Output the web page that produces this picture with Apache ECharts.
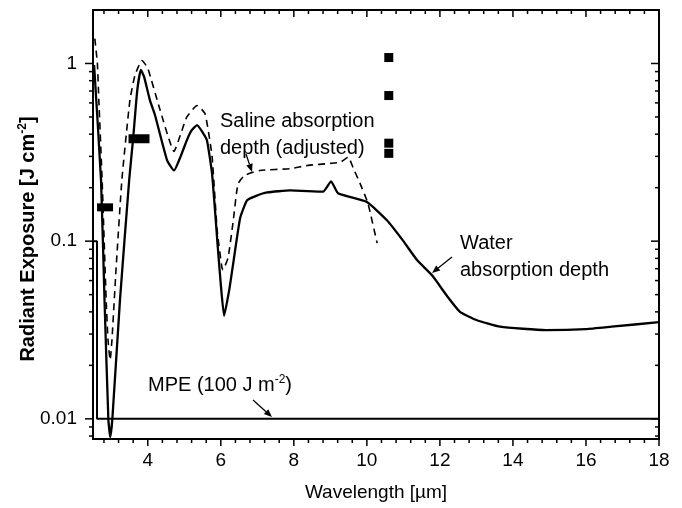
<!DOCTYPE html>
<html><head><meta charset="utf-8">
<script src="https://cdn.jsdelivr.net/npm/echarts@6/dist/echarts.min.js"></script>
<style>html,body{margin:0;padding:0;background:#fff}#c{width:682px;height:508px}</style>
</head><body><div id="c"></div>
<script>
// ---- data ----
const waterWavelength = [2.53, 2.72, 2.815, 2.92, 2.97, 3.03, 3.24, 3.49, 3.6, 3.71, 3.81, 3.9, 4.06, 4.2, 4.53, 4.72, 4.9, 5.07, 5.2, 5.35, 5.5, 5.62, 5.76, 5.92, 6.0, 6.09, 6.23, 6.34, 6.53, 6.72, 6.97, 7.27, 7.9, 8.8, 9.02, 9.21, 10.0, 10.55, 11.0, 11.38, 11.79, 12.2, 12.55, 13.0, 13.65, 14.9, 16.0, 16.7, 18];
const waterExposure = [0.98, 0.22, 0.047, 0.01, 0.0079, 0.01, 0.047, 0.22, 0.38, 0.70, 0.92, 0.84, 0.62, 0.51, 0.285, 0.25, 0.30, 0.37, 0.42, 0.45, 0.41, 0.37, 0.24, 0.091, 0.057, 0.038, 0.053, 0.075, 0.135, 0.17, 0.18, 0.188, 0.193, 0.19, 0.217, 0.186, 0.166, 0.131, 0.10, 0.078, 0.064, 0.049, 0.040, 0.036, 0.033, 0.0316, 0.032, 0.033, 0.035];
const salineWavelength = [2.55, 2.62, 2.66, 2.75, 2.86, 2.91, 2.97, 3.02, 3.13, 3.29, 3.51, 3.65, 3.84, 4.0, 4.34, 4.72, 4.9, 5.07, 5.35, 5.57, 5.76, 5.9, 6.03, 6.06, 6.2, 6.34, 6.47, 6.66, 7.07, 7.9, 8.39, 9.0, 9.27, 9.49, 9.62, 9.81, 10.03, 10.28];
const salineExposure = [1.38, 1.0, 0.62, 0.22, 0.047, 0.028, 0.0214, 0.028, 0.069, 0.22, 0.62, 0.86, 1.04, 0.94, 0.545, 0.32, 0.40, 0.50, 0.58, 0.52, 0.30, 0.115, 0.071, 0.069, 0.081, 0.13, 0.21, 0.235, 0.25, 0.256, 0.267, 0.274, 0.278, 0.297, 0.26, 0.212, 0.163, 0.0975];
const mpeWavelength = [2.5, 2.61, 2.61, 18];
const mpeExposure = [0.1, 0.1, 0.01, 0.01];
const laserWavelength = [10.6, 10.6, 10.6, 10.6];
const laserExposure = [1.08, 0.66, 0.356, 0.312];
const bandWavelength = [2.83, 3.76];
const bandExposure = [0.155, 0.377];
const xTickValues = [4, 6, 8, 10, 12, 14, 16, 18];
const xMinorTicks = [2.8, 3.2, 3.6, 4.4, 4.8, 5.2, 5.6, 6.4, 6.8, 7.2, 7.6, 8.4, 8.8, 9.2, 9.6, 10.4, 10.8, 11.2, 11.6, 12.4, 12.8, 13.2, 13.6, 14.4, 14.8, 15.2, 15.6, 16.4, 16.8, 17.2, 17.6];
const yTickValues = [0.01, 0.1, 1];
const yMinorTicks = [0.008, 0.009, 0.02, 0.03, 0.04, 0.05, 0.06, 0.07, 0.08, 0.09, 0.2, 0.3, 0.4, 0.5, 0.6, 0.7, 0.8, 0.9];
const X_MIN = 2.5, X_MAX = 18, Y_MIN = 0.0077, Y_MAX = 2;

// ---- helpers ----
const FONT = '"Liberation Sans", Arial, Helvetica, sans-serif';
const zip = (a, b) => a.map((v, i) => [v, b[i]]);

function tickSeries(values, axis, len) {
  return {
    type: 'custom', coordinateSystem: 'cartesian2d', clip: false, silent: true, z: 5,
    data: values.map(v => axis === 'x' ? [v, Y_MIN] : [X_MIN, v]),
    encode: { x: 0, y: 1 },
    renderItem: (params, api) => {
      const style = { stroke: '#000', lineWidth: 1.5 };
      if (axis === 'x') {
        const v = api.value(0);
        const b = api.coord([v, Y_MIN]), t = api.coord([v, Y_MAX]);
        return { type: 'group', children: [
          { type: 'line', shape: { x1: b[0], y1: b[1], x2: b[0], y2: b[1] + len }, style },
          { type: 'line', shape: { x1: t[0], y1: t[1], x2: t[0], y2: t[1] + len }, style }
        ] };
      }
      const v = api.value(1);
      const l = api.coord([X_MIN, v]), r = api.coord([X_MAX, v]);
      return { type: 'group', children: [
        { type: 'line', shape: { x1: l[0], y1: l[1], x2: l[0] - len, y2: l[1] }, style },
        { type: 'line', shape: { x1: r[0], y1: r[1], x2: r[0] - len, y2: r[1] }, style }
      ] };
    }
  };
}

function arrow(x1, y1, x2, y2) {
  const a = Math.atan2(y2 - y1, x2 - x1), L = 8, W = 3.3;
  const bx = x2 - L * Math.cos(a), by = y2 - L * Math.sin(a);
  const px = -Math.sin(a) * W, py = Math.cos(a) * W;
  return [
    { type: 'line', shape: { x1, y1, x2: bx, y2: by }, style: { stroke: '#000', lineWidth: 1.3 } },
    { type: 'polygon', shape: { points: [[x2, y2], [bx + px, by + py], [bx - px, by - py]] }, style: { fill: '#000' } }
  ];
}

function txt(x, y, text, extra) {
  return Object.assign({ type: 'text', x, y, style: Object.assign({
    text, fill: '#000', font: '20px ' + FONT, align: 'left', verticalAlign: 'middle'
  }, extra || {}) });
}

const supRich = {
  a: { fontSize: 20, fontFamily: FONT, color: '#000' },
  s: { fontSize: 12, fontFamily: FONT, color: '#000', verticalAlign: 'top', padding: [0, 0, 10, 0] }
};
const supRichBold = {
  a: { fontSize: 20, fontFamily: FONT, fontWeight: 'bold', color: '#000' },
  s: { fontSize: 12, fontFamily: FONT, fontWeight: 'bold', color: '#000', verticalAlign: 'top', padding: [0, 0, 10, 0] }
};

const chart = echarts.init(document.getElementById('c'), null, { renderer: 'canvas' });
chart.setOption({
  animation: false,
  backgroundColor: '#fff',
  grid: { left: 93, right: 23, top: 10, bottom: 69, show: true, borderColor: '#000', borderWidth: 2, backgroundColor: 'transparent' },
  xAxis: {
    type: 'value', min: X_MIN, max: X_MAX,
    axisLine: { show: false }, axisTick: { show: false }, splitLine: { show: false },
    axisLabel: {
      customValues: xTickValues, margin: 12, color: '#000', fontSize: 19, fontFamily: FONT,
      formatter: v => (xTickValues.indexOf(Math.round(v * 1000) / 1000) >= 0 ? String(Math.round(v)) : '')
    }
  },
  yAxis: {
    type: 'log', min: Y_MIN, max: Y_MAX,
    axisLine: { show: false }, axisTick: { show: false }, splitLine: { show: false },
    axisLabel: {
      customValues: yTickValues, margin: 16, color: '#000', fontSize: 19, fontFamily: FONT,
      formatter: v => {
        const l = Math.log10(v);
        return Math.abs(l - Math.round(l)) < 1e-6 ? String(Math.pow(10, Math.round(l))) : '';
      }
    }
  },
  series: [
    { name: 'MPE', type: 'line', data: zip(mpeWavelength, mpeExposure), showSymbol: false, symbol: 'none',
      lineStyle: { color: '#000', width: 2 }, z: 3 },
    { name: 'Water absorption depth', type: 'line', data: zip(waterWavelength, waterExposure), symbol: 'none',
      smooth: 0.15, lineStyle: { color: '#000', width: 2.3 }, z: 3 },
    { name: 'Saline absorption depth (adjusted)', type: 'line', data: zip(salineWavelength, salineExposure), symbol: 'none',
      smooth: 0.15, lineStyle: { color: '#000', width: 1.6, type: [7, 5] }, z: 3 },
    { name: 'Laser 10.6', type: 'scatter', data: zip(laserWavelength, laserExposure), symbol: 'rect', symbolSize: 9,
      itemStyle: { color: '#000', opacity: 1 }, z: 4 },
    { name: 'Bands', type: 'scatter', data: zip(bandWavelength, bandExposure), symbol: 'rect',
      symbolSize: (val, p) => (p.dataIndex === 0 ? [16, 8] : [21, 9]), itemStyle: { color: '#000', opacity: 1 }, z: 4 },
    tickSeries(xTickValues, 'x', 7),
    tickSeries(xMinorTicks, 'x', 4),
    tickSeries(yTickValues, 'y', 8),
    tickSeries(yMinorTicks, 'y', 4)
  ],
  graphic: [
    txt(220, 121, 'Saline absorption'),
    txt(220, 148, 'depth (adjusted)'),
    ...arrow(246, 154, 252, 172),
    txt(460, 243, 'Water'),
    txt(460, 270, 'absorption depth'),
    ...arrow(452, 257, 432, 273),
    { type: 'text', x: 148, y: 385, style: { text: '{a|MPE (100 J m}{s|-2}{a|)}', rich: supRich, align: 'left', verticalAlign: 'middle' } },
    ...arrow(253, 400, 272, 417),
    { type: 'text', x: 28, y: 239, rotation: Math.PI / 2,
      style: { text: '{a|Radiant Exposure [J cm}{s|-2}{a|]}', rich: supRichBold, align: 'center', verticalAlign: 'middle' } },
    { type: 'text', x: 376, y: 493, style: { text: 'Wavelength [µm]', font: '19px ' + FONT, fill: '#000', align: 'center', verticalAlign: 'middle' } }
  ]
});
</script></body></html>
